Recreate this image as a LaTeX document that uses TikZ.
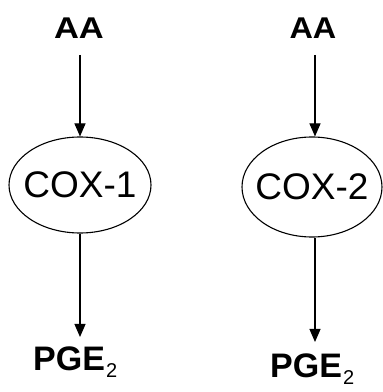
\documentclass[tikz,border=0pt]{standalone}
\usepackage{fontspec}
\setmainfont{Liberation Sans}
\usetikzlibrary{shapes.geometric,arrows.meta}
\begin{document}
\begin{tikzpicture}[x=1pt,y=1pt,
  src/.style={inner sep=0pt,anchor=base,font=\fontsize{30}{30}\selectfont\bfseries},
  enz/.style={draw,ellipse,line width=1.1pt,inner sep=0pt,font=\fontsize{37}{37}\selectfont},
  prod/.style={inner sep=0pt,anchor=base west,font=\fontsize{34}{34}\selectfont\bfseries},
  arr/.style={line width=1.1pt,-{Triangle[length=13pt,width=11pt]}}]
\useasboundingbox (0,0) rectangle (383,392);
% left
\node[src] (aa1) at (79,353) {\scalebox{1.15}[1]{AA}};
\node[enz,minimum width=142pt,minimum height=96pt] (cox1) at (80,207) {\makebox[0pt]{COX-1}};
\node[prod] (pge1) at (33,22) {PGE\kern1pt\raisebox{-7pt}{\fontsize{20}{20}\selectfont\mdseries 2}};
\coordinate (a1top) at (80,337);
\coordinate (a1bot) at (80,55);
\draw[arr] (a1top) -- (cox1.north);
\draw[arr] (cox1.south) -- (a1bot);
% right
\node[src] (aa2) at (313,353) {\scalebox{1.08}[1]{AA}};
\node[enz,minimum width=140pt,minimum height=100pt] (cox2) at (312,205) {\makebox[0pt]{COX-2}};
\node[prod] (pge2) at (270,15) {PGE\kern1pt\raisebox{-7pt}{\fontsize{20}{20}\selectfont\mdseries 2}};
\coordinate (a2top) at (315,337);
\coordinate (a2bot) at (315,50);
\draw[arr] (a2top) -- (cox2.north -| a2top);
\draw[arr] (cox2.south -| a2top) -- (a2bot);
\end{tikzpicture}
\end{document}
